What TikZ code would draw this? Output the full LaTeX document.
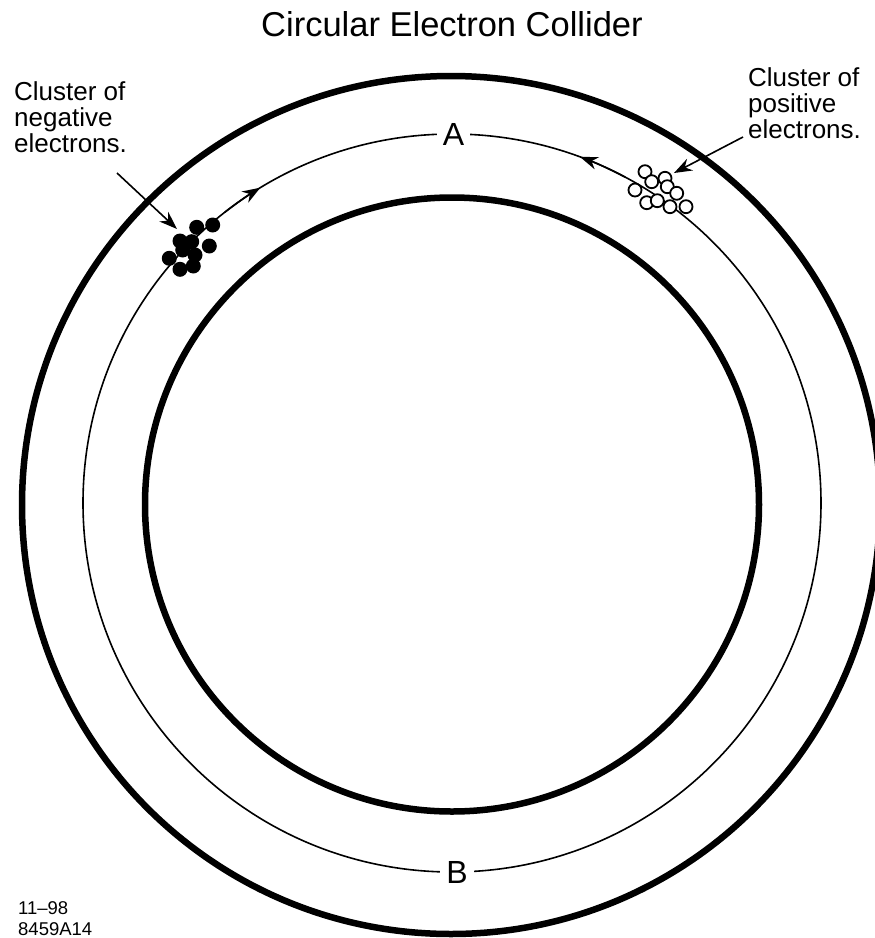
\documentclass[tikz,border=0pt]{standalone}
\usepackage{fontspec}
\setmainfont{Liberation Sans}
\usetikzlibrary{arrows.meta}
\begin{document}
\begin{tikzpicture}[x=1pt,y=1pt,
  ring/.style={line width=6.5pt},
  orbit/.style={line width=1.6pt},
  tipped/.style={-{Stealth[length=18pt,width=13pt]}},
  negdot/.style={circle,fill=black,inner sep=0pt,minimum size=15pt},
  posdot/.style={circle,draw=black,line width=1.8pt,fill=white,inner sep=0pt,minimum size=13pt},
  lbl/.style={font=\fontsize{26}{26}\selectfont,align=left,inner sep=0pt},
  letter/.style={font=\fontsize{32}{36}\selectfont,fill=white,inner xsep=6pt,inner ysep=2pt},
]
\useasboundingbox (0,0) rectangle (875,-938);
\clip (0,0) rectangle (875,-938);
\coordinate (co) at (451,-505);
\coordinate (ci) at (452,-504.5);
\coordinate (cm) at (452,-503);
\draw[ring] (co) circle[radius=429];
\draw[ring] (ci) circle[radius=307];
\draw[orbit] (cm) circle[radius=369];
% direction arrows on the orbit
\draw[orbit,tipped] ([shift={(128:369)}]cm) arc[start angle=128,end angle=121.3,radius=369];
\draw[orbit,tipped] ([shift={(62:369)}]cm) arc[start angle=62,end angle=69.7,radius=369];
% labels on orbit
\node[letter] (A) at (453.5,-134) {A};
\node[letter] (B) at (457,-872) {B};
% title
\node[anchor=base,font=\fontsize{34.5}{38}\selectfont,inner sep=0pt] (title) at (452,-36) {Circular Electron Collider};
% negative cluster
\node[negdot] (n1) at (196.7,-227.3) {};
\node[negdot] (n2) at (212.7,-225) {};
\node[negdot] (n3) at (180,-241) {};
\node[negdot] (n4) at (191.7,-241.7) {};
\node[negdot] (n5) at (209.3,-246) {};
\node[negdot] (n6) at (182.7,-250) {};
\node[negdot] (n7) at (195,-255) {};
\node[negdot] (n8) at (169.3,-258.3) {};
\node[negdot] (n9) at (180,-269.3) {};
\node[negdot] (n10) at (193.3,-266) {};
% positive cluster
\node[posdot] (p1) at (645,-171.7) {};
\node[posdot] (p2) at (651.7,-181.7) {};
\node[posdot] (p3) at (665,-178.3) {};
\node[posdot] (p4) at (667.3,-186.7) {};
\node[posdot] (p5) at (635,-190) {};
\node[posdot] (p6) at (676.7,-193.3) {};
\node[posdot] (p7) at (646.7,-202.7) {};
\node[posdot] (p8) at (657.3,-200.7) {};
\node[posdot] (p9) at (670,-206.7) {};
\node[posdot] (p10) at (686,-206.7) {};
% text labels
\node[lbl,anchor=north west] (negl) at (14,-81) {Cluster of\\negative\\electrons.};
\node[lbl,anchor=north west] (posl) at (748,-67) {Cluster of\\positive\\electrons.};
\coordinate (nstart) at (117,-173);
\coordinate (ntip) at (177,-229);
\coordinate (pstart) at (743,-137);
\coordinate (ptip) at (674,-173);
\draw[orbit,tipped] (nstart) -- (ntip);
\draw[orbit,tipped] (pstart) -- (ptip);
% code
\node[anchor=base west,font=\fontsize{18.5}{21}\selectfont,inner sep=0pt] (date) at (18,-914) {11–98};
\node[anchor=base west,font=\fontsize{18.5}{21}\selectfont,inner sep=0pt] (code) at (18,-935) {8459A14};
\end{tikzpicture}
\end{document}
